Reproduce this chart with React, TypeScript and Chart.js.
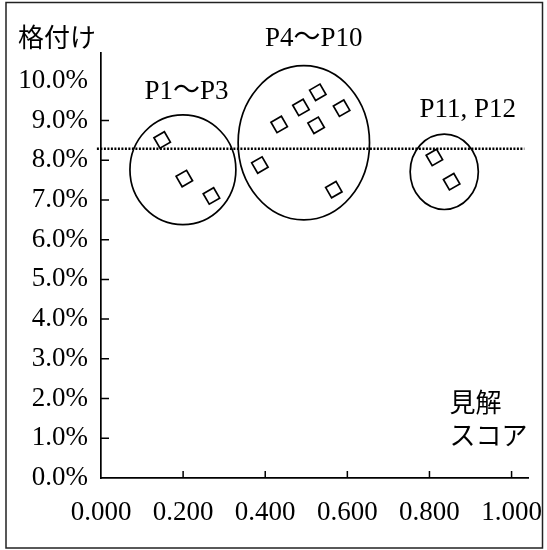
import React, { useEffect, useRef } from 'react';
import { Chart, registerables } from 'chart.js';

Chart.register(...registerables);

// ---- data ----
const pointX = [0.149, 0.203, 0.269, 0.387, 0.434, 0.487, 0.528, 0.524, 0.586, 0.567, 0.812, 0.854];
const pointY = [8.51, 7.54, 7.1, 7.88, 8.9, 9.33, 9.71, 8.88, 9.31, 7.26, 8.07, 7.46];
const refLineX = [-0.01, 1.031];
const refLineY = [8.29, 8.29];
const xTickValues = [0, 0.2, 0.4, 0.6, 0.8, 1.0];
const yTickValues = [0, 1, 2, 3, 4, 5, 6, 7, 8, 9, 10];
const groupLabels = ['P1〜P3', 'P4〜P10', 'P11, P12'];
const groupCenterX = [0.1995, 0.494, 0.836];
const groupCenterY = [7.76, 8.44, 7.71];
const groupRadiusX = [0.129, 0.16, 0.083];
const groupRadiusY = [1.38, 1.94, 0.95];
const groupLabelX = [0.2085, 0.518, 0.893];
const groupLabelY = [9.71, 11.05, 9.26];
const yAxisTitle = '格付け';
const xAxisTitle = ['見解', 'スコア'];
const xAxisTitleX = 0.849;
const xAxisTitleY = [1.92, 1.08];

const SERIF = "'Liberation Serif', 'Times New Roman', serif";
const LABEL_FONT = "'Liberation Serif', 'Noto Sans CJK JP', serif";
const JP = "'Noto Sans CJK JP', sans-serif";

const overlay = {
  id: 'overlay',
  beforeDraw(chart: any) {
    const ctx = chart.ctx;
    ctx.save();
    ctx.strokeStyle = '#222';
    ctx.lineWidth = 1.5;
    ctx.strokeRect(6, 2.5, 536.5, 545.5);
    ctx.restore();
  },
  afterDatasetsDraw(chart: any) {
    const ctx = chart.ctx;
    const xs = chart.scales.x;
    const ys = chart.scales.y;
    const area = chart.chartArea;
    ctx.save();
    ctx.strokeStyle = '#000';
    ctx.lineWidth = 1.7;
    // group ellipses
    for (let i = 0; i < groupCenterX.length; i++) {
      const cx = xs.getPixelForValue(groupCenterX[i]);
      const cy = ys.getPixelForValue(groupCenterY[i]);
      const rx = Math.abs(xs.getPixelForValue(groupCenterX[i] + groupRadiusX[i]) - cx);
      const ry = Math.abs(ys.getPixelForValue(groupCenterY[i] + groupRadiusY[i]) - cy);
      ctx.beginPath();
      ctx.ellipse(cx, cy, rx, ry, 0, 0, Math.PI * 2);
      ctx.stroke();
    }
    // inward tick marks
    ctx.lineWidth = 1.5;
    ctx.beginPath();
    xTickValues.forEach((v) => {
      if (v === 0) return;
      const px = xs.getPixelForValue(v);
      ctx.moveTo(px, area.bottom);
      ctx.lineTo(px, area.bottom - 7);
    });
    yTickValues.forEach((v) => {
      if (v === 0 || v === 10) return;
      const py = ys.getPixelForValue(v);
      ctx.moveTo(area.left, py);
      ctx.lineTo(area.left + 8, py);
    });
    ctx.stroke();
    ctx.restore();
  },
  afterDraw(chart: any) {
    const ctx = chart.ctx;
    const xs = chart.scales.x;
    const ys = chart.scales.y;
    const area = chart.chartArea;
    ctx.save();
    ctx.fillStyle = '#000';
    ctx.textBaseline = 'middle';
    // y axis title
    ctx.font = `26px ${JP}`;
    ctx.textAlign = 'left';
    ctx.fillText(yAxisTitle, area.left - 83, area.top - 16);
    // x axis title (two lines)
    xAxisTitle.forEach((t, i) => {
      ctx.fillText(t, xs.getPixelForValue(xAxisTitleX), ys.getPixelForValue(xAxisTitleY[i]));
    });
    // group labels
    ctx.font = `27px ${LABEL_FONT}`;
    ctx.textAlign = 'center';
    groupLabels.forEach((t, i) => {
      ctx.fillText(t, xs.getPixelForValue(groupLabelX[i]), ys.getPixelForValue(groupLabelY[i]));
    });
    ctx.restore();
  },
};

export default function App() {
  const canvasRef = useRef<HTMLCanvasElement | null>(null);

  useEffect(() => {
    const canvas = canvasRef.current;
    if (!canvas) return;
    const chart = new Chart(canvas, {
      type: 'scatter',
      data: {
        datasets: [
          {
            label: 'points',
            data: pointX.map((x, i) => ({ x, y: pointY[i] })),
            pointStyle: 'rectRot',
            pointRadius: 8.5,
            pointRotation: 15,
            pointBorderWidth: 1.7,
            pointBorderColor: '#000',
            pointBackgroundColor: '#fff',
            showLine: false,
          },
          {
            label: 'ref',
            type: 'line',
            data: refLineX.map((x, i) => ({ x, y: refLineY[i] })),
            borderColor: '#000',
            borderWidth: 2.5,
            borderDash: [2, 1.5],
            pointRadius: 0,
            fill: false,
            clip: false,
          } as any,
        ],
      },
      options: {
        animation: false,
        responsive: false,
        devicePixelRatio: 1,
        layout: { padding: { left: 8, right: 19, top: 53, bottom: 22 } },
        plugins: {
          legend: { display: false },
          tooltip: { enabled: false },
        },
        scales: {
          x: {
            type: 'linear',
            min: 0,
            max: 1.04,
            afterBuildTicks: (s: any) => {
              s.ticks = xTickValues.map((v) => ({ value: v }));
            },
            afterFit: (s: any) => {
              s.height = 50;
              s.paddingLeft = 0;
              s.paddingRight = 0;
            },
            ticks: {
              callback: (v: any) => Number(v).toFixed(3),
              font: { size: 27, family: SERIF },
              color: '#000',
              padding: 19,
              maxRotation: 0,
              autoSkip: false,
            },
            grid: { display: false, drawTicks: false },
            border: { display: true, color: '#000', width: 1.7 },
          },
          y: {
            type: 'linear',
            min: 0,
            max: 10.7,
            afterBuildTicks: (s: any) => {
              s.ticks = yTickValues.map((v) => ({ value: v }));
            },
            afterFit: (s: any) => {
              s.width = 93;
              s.paddingTop = 0;
              s.paddingBottom = 0;
            },
            ticks: {
              callback: (v: any) => Number(v).toFixed(1) + '%',
              font: { size: 27, family: SERIF },
              color: '#000',
              padding: 13,
              autoSkip: false,
            },
            grid: { display: false, drawTicks: false },
            border: { display: true, color: '#000', width: 1.7 },
          },
        },
      },
      plugins: [overlay],
    } as any);
    return () => chart.destroy();
  }, []);

  return (
    <div style={{ position: 'absolute', left: 0, top: 0, width: 547, height: 550, background: '#fff' }}>
      <canvas ref={canvasRef} width={547} height={550} style={{ width: 547, height: 550, display: 'block' }} />
    </div>
  );
}
